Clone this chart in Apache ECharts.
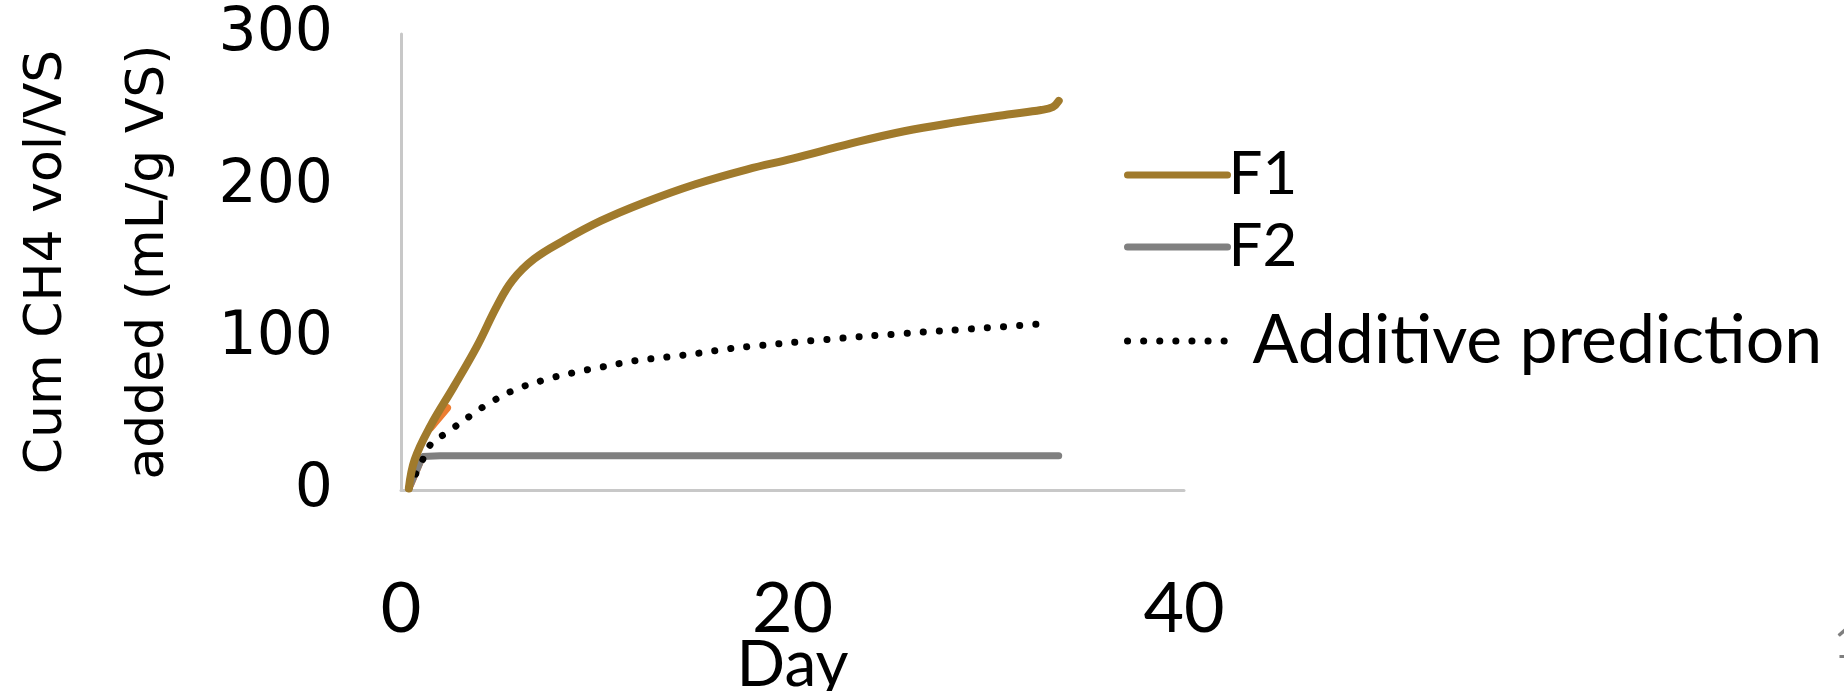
<!DOCTYPE html>
<html>
<head>
<meta charset="utf-8">
<script src="https://cdn.jsdelivr.net/npm/echarts@6/dist/echarts.min.js"></script>
<style>
html,body{margin:0;padding:0;background:#fff;}
#main{width:1844px;height:691px;}
</style>
</head>
<body>
<div id="main"></div>
<script>
// ---- data ----
const xTicks = [0, 20, 40];
const yTicks = [0, 100, 200, 300];

const f1Days = [0.4, 0.7, 1.5, 2.7, 3.9, 4.9, 5.7, 6.8, 8.3, 10.2, 12.4, 15.0, 17.7, 20.0, 23.0, 25.7, 28.4, 31.0, 32.7, 33.3, 33.6];
const f1Vals = [1, 20, 42, 68, 95, 121, 138, 152, 164, 177, 189, 201, 211, 218, 228, 236, 242, 247, 250, 252, 256];

const f2Days = [0.4, 1.1, 2.0, 10.0, 20.0, 33.6];
const f2Vals = [1, 22, 22.5, 22.5, 22.5, 22.5];

const addDays = [0.4, 1.0, 1.57, 2.25, 3.56, 4.24, 5.65, 7.2, 8.75, 10.3, 11.95, 13.6, 15.2, 16.8, 18.3, 21.7, 25.7, 29.7, 33.0];
const addVals = [1, 17, 31, 37, 49, 55, 65, 72, 77, 81, 85, 87.5, 90, 93, 95, 99, 103, 106.5, 109.5];

const orangeDays = [0.45, 1.0, '-', 1.5, 2.35];
const orangeVals = [3, 20, '-', 41, 54];

const seriesNames = ['F1', 'F2', 'Additive prediction'];

function pairs(xs, ys) { return xs.map((x, i) => [x, ys[i]]); }

const legendCommon = {
  left: 1119, itemWidth: 100, itemHeight: 14, itemGap: 0,
  itemStyle: { opacity: 0 },
  lineStyle: { width: 7 }
};

const chart = echarts.init(document.getElementById('main'));
chart.setOption({
  backgroundColor: '#ffffff',
  animation: false,
  grid: { left: 401, right: 660, top: 34, bottom: 201, containLabel: false, outerBoundsMode: 'none' },
  xAxis: {
    type: 'value', min: 0, max: 40, interval: 20,
    axisLine: { show: true, lineStyle: { color: '#c8c8c8', width: 3 } },
    axisTick: { show: false },
    splitLine: { show: false },
    axisLabel: { margin: 84, fontFamily: 'Lato', fontSize: 70, color: '#000',
      formatter: v => xTicks.includes(v) ? String(v) : '' },
    name: 'Day', nameLocation: 'middle', nameGap: 143, nameMoveOverlap: false,
    nameTextStyle: { fontFamily: 'Lato', fontSize: 64, color: '#000' }
  },
  yAxis: {
    type: 'value', min: 0, max: 300, interval: 100,
    axisLine: { show: true, lineStyle: { color: '#c8c8c8', width: 3 } },
    axisTick: { show: false },
    splitLine: { show: false },
    axisLabel: { margin: 68, fontFamily: 'DejaVu Sans', fontSize: 60, color: '#000',
      formatter: v => yTicks.includes(v) ? String(v) : '' },
    name: 'Cum CH4 vol/VS\nadded (mL/g VS)', nameLocation: 'middle', nameRotate: 90, nameGap: 201,
    nameTextStyle: { fontFamily: 'DejaVu Sans', fontSize: 52, color: '#000', lineHeight: 102, align: 'center' }
  },
  legend: [
    Object.assign({ data: ['F1'], top: 140,
      textStyle: { fontFamily: 'Lato', fontSize: 60, color: '#000', padding: [0,0,0,-4] } }, legendCommon),
    Object.assign({ data: ['F2'], top: 212,
      textStyle: { fontFamily: 'Lato', fontSize: 60, color: '#000', padding: [0,0,0,-4] } }, legendCommon),
    Object.assign({ data: ['Additive prediction'], top: 302,
      textStyle: { fontFamily: 'Lato', fontSize: 68, color: '#000', padding: [0,0,0,20] } }, legendCommon)
  ],
  series: [
    { name: 'orange', type: 'line', data: pairs(orangeDays, orangeVals), showSymbol: false, symbol: 'none',
      silent: true, z: 1, lineStyle: { color: '#ED7D31', width: 8, cap: 'round' } },
    { name: seriesNames[1], type: 'line', data: pairs(f2Days, f2Vals), symbol: 'none', z: 2,
      lineStyle: { color: '#808080', width: 7, cap: 'round' }, itemStyle: { color: '#808080' } },
    { name: seriesNames[2], type: 'line', data: pairs(addDays, addVals), symbol: 'none', smooth: 0.4, z: 3,
      lineStyle: { color: '#000', width: 7, type: [0.1, 16], cap: 'round' }, itemStyle: { color: '#000' } },
    { name: seriesNames[0], type: 'line', data: pairs(f1Days, f1Vals), symbol: 'none', smooth: 0.4, z: 4,
      lineStyle: { color: '#A07A2C', width: 8, cap: 'round' }, itemStyle: { color: '#A07A2C' } }
  ],
  graphic: [
    { type: 'text', left: 1834, top: 622, style: { text: '1', fontFamily: 'Lato', fontSize: 44, fill: '#7f7f7f' } }
  ]
});
</script>
</body>
</html>
